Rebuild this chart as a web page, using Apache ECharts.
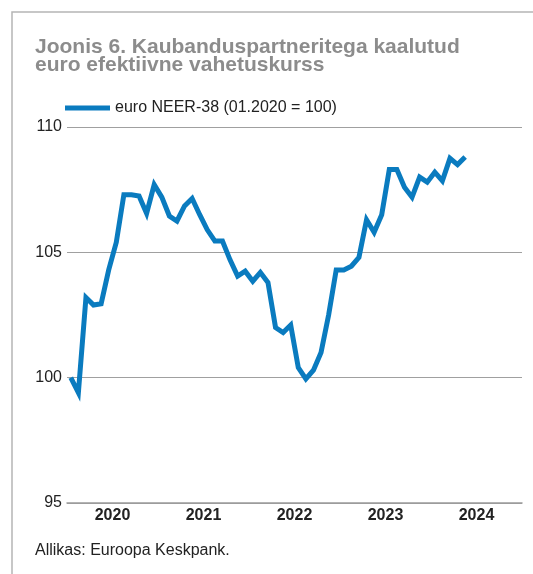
<!DOCTYPE html>
<html>
<head>
<meta charset="utf-8">
<script src="https://cdn.jsdelivr.net/npm/echarts@6/dist/echarts.min.js"></script>
<style>
  html, body { margin: 0; padding: 0; background: #fff; }
  #main { width: 533px; height: 574px; }
</style>
</head>
<body>
<div id="main"></div>
<script>
// aastad x-teljel
var years = ['2020', '2021', '2022', '2023', '2024'];
// kuud 01.2020 - 12.2024
var months = [];
years.forEach(function (y) {
  for (var m = 1; m <= 12; m++) months.push((m < 10 ? '0' + m : '' + m) + '.' + y);
});
// euro NEER-38, 01.2020 = 100 (loetud jooniselt)
var neer = [
  100.0, 99.4, 103.2, 102.9, 102.95, 104.3, 105.4, 107.3, 107.3, 107.25, 106.55, 107.7,
  107.2, 106.45, 106.25, 106.85, 107.15, 106.5, 105.9, 105.45, 105.45, 104.7, 104.05, 104.25,
  103.85, 104.2, 103.8, 102.0, 101.8, 102.1, 100.4, 99.95, 100.3, 101.0, 102.5, 104.3,
  104.3, 104.45, 104.8, 106.3, 105.8, 106.5, 108.3, 108.3, 107.6, 107.2, 108.0, 107.8,
  108.2, 107.85, 108.75, 108.5, 108.8
];
var yTicks = [95, 100, 105, 110];

var font = '"Liberation Sans", Arial, Helvetica, sans-serif';
var myChart = echarts.init(document.getElementById('main'));
myChart.setOption({
  animation: false,
  textStyle: { fontFamily: font },
  title: {
    text: 'Joonis 6. Kaubanduspartneritega kaalutud\neuro efektiivne vahetuskurss',
    left: 35,
    top: 38,
    padding: 0,
    textStyle: {
      color: '#8c8c8c',
      fontSize: 21,
      fontWeight: 'bold',
      lineHeight: 18,
      fontFamily: font
    }
  },
  legend: {
    left: 65,
    top: 100,
    padding: 0,
    itemWidth: 45,
    itemHeight: 5,
    itemGap: 6,
    icon: 'rect',
    textStyle: { color: '#222', fontSize: 16, padding: [0, 0, 0, 0] },
    data: ['euro NEER-38 (01.2020 = 100)']
  },
  graphic: [
    {
      type: 'polyline',
      shape: { points: [[12, 600], [12, 12], [600, 12]] },
      style: { fill: null, stroke: '#b5b5b5', lineWidth: 1.5 },
      silent: true
    },
    {
      type: 'text',
      left: 35,
      top: 543,
      style: { text: 'Allikas: Euroopa Keskpank.', fill: '#222', fontSize: 16, fontFamily: font }
    }
  ],
  grid: { left: 67, right: 11, top: 127, bottom: 71 },
  xAxis: [
    {
      type: 'category',
      data: months,
      boundaryGap: true,
      show: false
    },
    {
      type: 'category',
      data: years,
      boundaryGap: true,
      position: 'bottom',
      axisLine: { lineStyle: { color: '#9a9a9a', width: 1.5 } },
      axisTick: { inside: true, length: 8, lineStyle: { color: '#9a9a9a', width: 1.5 } },
      axisLabel: { color: '#222', fontSize: 16, fontWeight: 'bold', margin: 5 }
    }
  ],
  yAxis: {
    type: 'value',
    min: yTicks[0],
    max: yTicks[yTicks.length - 1],
    interval: 5,
    axisLine: { show: false },
    axisTick: { show: false },
    axisLabel: { color: '#222', fontSize: 16, margin: 5 },
    splitLine: { lineStyle: { color: '#a0a0a0', width: 1 } }
  },
  series: [
    {
      name: 'euro NEER-38 (01.2020 = 100)',
      type: 'line',
      xAxisIndex: 0,
      data: neer,
      symbol: 'none',
      color: '#0a7bbf',
      lineStyle: { width: 5, color: '#0a7bbf', join: 'miter' }
    }
  ]
});
</script>
</body>
</html>
